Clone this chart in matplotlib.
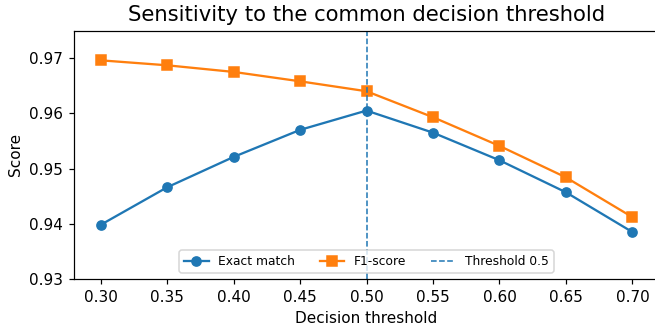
import matplotlib
matplotlib.use("Agg")
import matplotlib.pyplot as plt

thresholds = [0.30, 0.35, 0.40, 0.45, 0.50, 0.55, 0.60, 0.65, 0.70]
exact_match = [0.9398, 0.9466, 0.9521, 0.9570, 0.9605, 0.9565, 0.9515, 0.9457, 0.9385]
f1_score = [0.9696, 0.9687, 0.9675, 0.9658, 0.9640, 0.9593, 0.9541, 0.9484, 0.9412]
chosen_threshold = 0.5

W, H = 655, 330
dpi = 110
fig = plt.figure(figsize=(W / dpi, H / dpi), dpi=dpi)
ax = fig.add_axes([74 / W, 1 - 279 / H, (659 - 74) / W, (279 - 30.5) / H])
ax.plot(thresholds, exact_match, marker="o", label="Exact match")
ax.plot(thresholds, f1_score, marker="s", label="F1-score")
ax.axvline(chosen_threshold, linestyle="--", linewidth=1, label="Threshold 0.5")
ax.set_ylim(0.93, 0.975)
ax.set_xlim(0.28, 0.72)
ax.set_xticks(thresholds)
ax.set_xlabel("Decision threshold")
ax.set_ylabel("Score")
ax.set_title("Sensitivity to the common decision threshold", fontsize=13.8)
ax.legend(loc="lower center", ncol=3, fontsize=8)
fig.savefig("out.png", dpi=dpi)
